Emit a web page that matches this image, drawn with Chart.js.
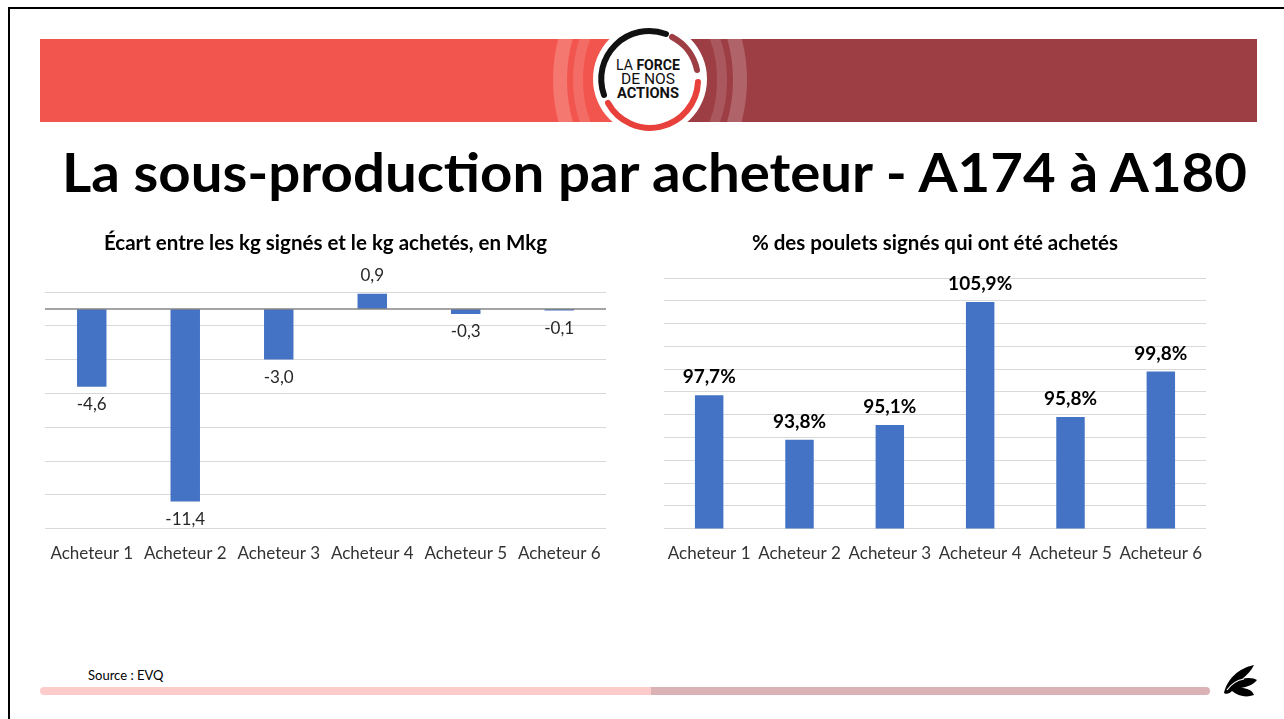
<!DOCTYPE html>
<html lang="fr">
<head>
<meta charset="utf-8">
<title>La sous-production par acheteur - A174 à A180</title>
<script src="https://cdn.jsdelivr.net/npm/chart.js@4"></script>
<style>
  html, body { margin: 0; padding: 0; background: #fff; }
  body { width: 1284px; height: 719px; position: relative; overflow: hidden; font-family: Lato, sans-serif; }
  .frame-top { position: absolute; left: 8px; top: 7px; width: 1276px; height: 2px; background: #000; }
  .frame-left { position: absolute; left: 8px; top: 7px; width: 2px; height: 712px; background: #000; }
  #deco { position: absolute; left: 0; top: 0; }
  canvas { position: absolute; }
  #chart-ecart { left: 30px; top: 225px; }
  #chart-pct { left: 650px; top: 225px; }
</style>
</head>
<body>
<div class="frame-top"></div>
<div class="frame-left"></div>

<svg id="deco" width="1284" height="719" xmlns="http://www.w3.org/2000/svg">
  <defs>
    <clipPath id="band"><rect x="40" y="39" width="1217" height="83"/></clipPath>
    <clipPath id="footbar"><rect x="40" y="687" width="1170" height="8" rx="4"/></clipPath>
  </defs>
  <!-- bandeau -->
  <rect x="40" y="39" width="610" height="83" fill="#f2554d"/>
  <rect x="650" y="39" width="607" height="83" fill="#9d3d44"/>
  <g clip-path="url(#band)" fill="none" stroke="#fff">
    <ellipse cx="650" cy="80" rx="90" ry="120" stroke-opacity="0.2" stroke-width="14"/>
    <ellipse cx="650" cy="80" rx="72" ry="95" stroke-opacity="0.14" stroke-width="10"/>
  </g>
  <!-- logo -->
  <circle cx="650" cy="79" r="57" fill="#fff"/>
  <path d="M 604 95 A 48 48 0 0 1 666 34" fill="none" stroke="#111" stroke-width="6" stroke-linecap="round"/>
  <path d="M 672 37 A 48 48 0 0 1 697 70" fill="none" stroke="#9d3d44" stroke-width="6" stroke-linecap="round"/>
  <path d="M 698 82 A 48 48 0 0 1 608 103" fill="none" stroke="#e8403b" stroke-width="6" stroke-linecap="round"/>
  <g font-family="Roboto, sans-serif" font-size="14" fill="#111" text-anchor="middle">
    <text x="648" y="70" textLength="64" lengthAdjust="spacingAndGlyphs">LA <tspan font-weight="bold">FORCE</tspan></text>
    <text x="648" y="84" textLength="54" lengthAdjust="spacingAndGlyphs">DE NOS</text>
    <text x="648" y="98" font-weight="bold" textLength="62" lengthAdjust="spacingAndGlyphs">ACTIONS</text>
  </g>
  <!-- titre -->
  <text x="654.5" y="192" text-anchor="middle" font-family="Lato, sans-serif" font-weight="bold" font-size="54" fill="#000"
        textLength="1185" lengthAdjust="spacingAndGlyphs">La sous-production par acheteur - A174 à A180</text>
  <!-- pied de page -->
  <text x="88" y="680" font-family="Lato, sans-serif" font-size="13" fill="#000">Source : EVQ</text>
  <g clip-path="url(#footbar)">
    <rect x="40" y="687" width="611" height="8" fill="#fdcbc9"/>
    <rect x="651" y="687" width="559" height="8" fill="#dbb2b5"/>
  </g>
  <path d="M1224 693 C1227 679 1239 668 1254 665 C1251 671 1247 675 1242 679 C1248 677 1254 678 1257 680 C1253 685 1247 687 1241 688 C1247 688 1252 690 1254 695 C1246 698 1238 696 1232 691 C1230 693 1227 695 1224 693 Z" fill="#000"/>
  <path d="M1227 690 C1232 683 1238 680 1244 679" fill="none" stroke="#fff" stroke-width="1.2"/>
</svg>

<canvas id="chart-ecart" width="590" height="350"></canvas>
<canvas id="chart-pct" width="570" height="350"></canvas>

<script>
// données
const categories = ['Acheteur 1', 'Acheteur 2', 'Acheteur 3', 'Acheteur 4', 'Acheteur 5', 'Acheteur 6'];
const ecartMkg = [-4.6, -11.4, -3.0, 0.9, -0.3, -0.1];
const pctAchetes = [97.7, 93.8, 95.1, 105.9, 95.8, 99.8];
const ecartAxis = { min: -13, max: 1, step: 2 };
const pctAxis = { min: 86, max: 108, step: 2 };

const BAR_BLUE = '#4472c4';
const GRID_GRAY = '#d9d9d9';
const FONT = 'Lato, sans-serif';

// virgule décimale
const frNum = v => v.toFixed(1).replace('.', ',');

// étiquettes de données au bout des barres
const barLabels = {
  id: 'barLabels',
  afterDatasetsDraw(chart, args, opts) {
    const ctx = chart.ctx;
    const meta = chart.getDatasetMeta(0);
    const values = chart.data.datasets[0].data;
    ctx.save();
    ctx.font = opts.font;
    ctx.fillStyle = opts.color;
    ctx.textAlign = 'center';
    ctx.textBaseline = 'middle';
    meta.data.forEach((bar, i) => {
      const v = values[i];
      const y = v < 0 ? bar.y + opts.offset : bar.y - opts.offset;
      ctx.fillText(frNum(v) + opts.suffix, bar.x, y);
    });
    ctx.restore();
  }
};

// ligne du zéro (graphique de gauche)
const zeroLine = {
  id: 'zeroLine',
  afterDatasetsDraw(chart, args, opts) {
    if (!opts.show) return;
    const { ctx, chartArea, scales } = chart;
    const y = scales.y.getPixelForValue(0);
    ctx.save();
    ctx.strokeStyle = opts.color;
    ctx.lineWidth = 1.5;
    ctx.beginPath();
    ctx.moveTo(chartArea.left, y);
    ctx.lineTo(chartArea.right, y);
    ctx.stroke();
    ctx.restore();
  }
};

function makeChart(canvasId, title, values, axis, cfg) {
  return new Chart(document.getElementById(canvasId), {
    type: 'bar',
    data: {
      labels: categories,
      datasets: [{
        data: values,
        backgroundColor: BAR_BLUE,
        borderWidth: 0,
        categoryPercentage: 1,
        barPercentage: 0.315
      }]
    },
    options: {
      responsive: false,
      animation: false,
      devicePixelRatio: 1,
      layout: { padding: cfg.padding },
      plugins: {
        legend: { display: false },
        tooltip: { enabled: false },
        title: {
          display: true,
          text: title,
          color: '#000',
          font: { family: FONT, size: 20.5, weight: 'bold' },
          padding: { top: 6, bottom: cfg.titleGap }
        },
        barLabels: cfg.labels,
        zeroLine: { show: cfg.zero, color: '#868686' }
      },
      scales: {
        x: {
          grid: { display: false },
          border: { display: false },
          ticks: { color: '#333', font: { family: FONT, size: 17 }, padding: 7, maxRotation: 0 }
        },
        y: {
          min: axis.min,
          max: axis.max,
          border: { display: false },
          grid: { color: GRID_GRAY, lineWidth: 1, drawTicks: false },
          ticks: { display: false, stepSize: axis.step }
        }
      }
    },
    plugins: [barLabels, zeroLine]
  });
}

makeChart('chart-ecart', 'Écart entre les kg signés et le kg achetés, en Mkg', ecartMkg, ecartAxis, {
  padding: { left: 15, right: 14, top: 0, bottom: 4 },
  titleGap: 36.4,
  zero: true,
  labels: { font: '17px ' + FONT, color: '#262626', offset: 18, suffix: '' }
});

makeChart('chart-pct', '% des poulets signés qui ont été achetés', pctAchetes, pctAxis, {
  padding: { left: 14, right: 14, top: 0, bottom: 4 },
  titleGap: 22.4,
  zero: false,
  labels: { font: 'bold 19px ' + FONT, color: '#000', offset: 18, suffix: '%' }
});
</script>
</body>
</html>
